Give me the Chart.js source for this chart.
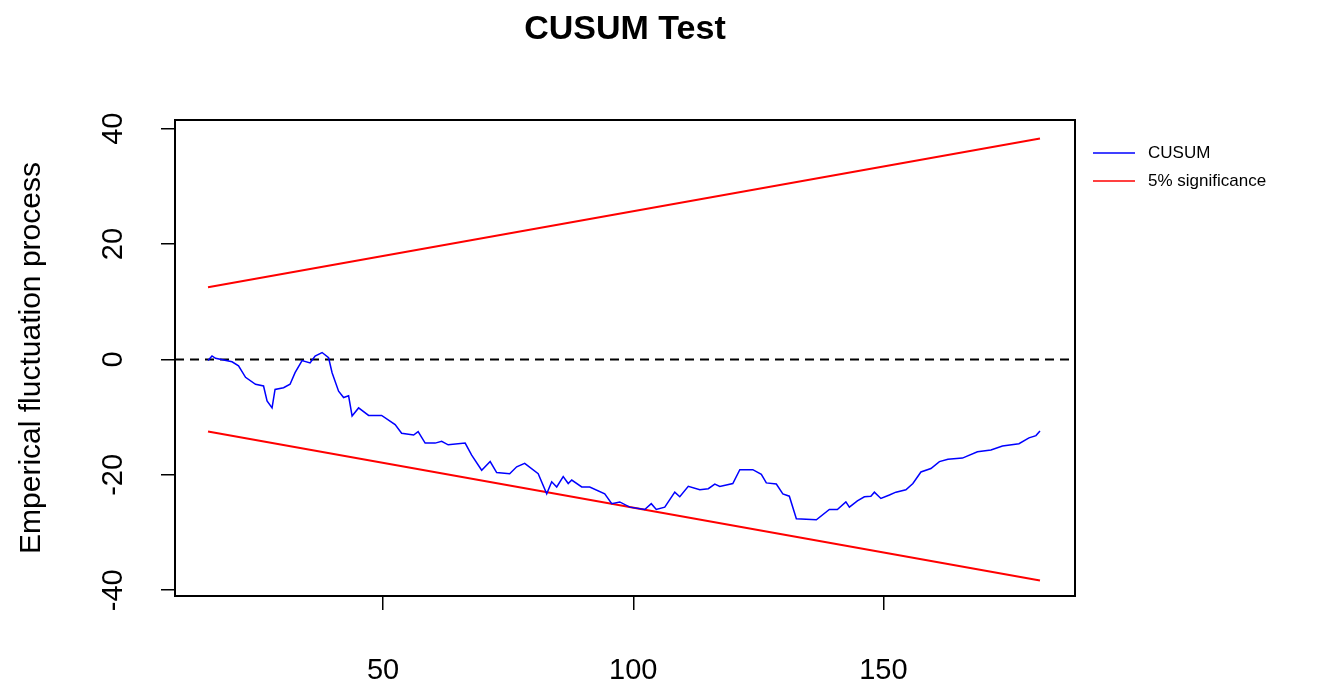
<!DOCTYPE html>
<html lang="en">
<head>
  <meta charset="UTF-8">
  <title>CUSUM Test</title>
  <script src="https://cdn.jsdelivr.net/npm/chart.js"></script>
  <style>
    html, body { margin: 0; padding: 0; background: #fff; }
    #wrap { width: 1322px; height: 694px; }
  </style>
</head>
<body>
<div id="wrap"><canvas id="cusumChart" width="1322" height="694"></canvas></div>
<script>
// values
const cusumX = [15.0, 15.8, 16.5, 19.8, 21.1, 22.5, 24.5, 26.1, 26.8, 27.8, 28.4, 30.1, 31.4, 32.4, 33.8, 35.4, 36.4, 37.8, 39.1, 39.8, 41.1, 42.1, 43.1, 43.8, 45.1, 47.1, 49.7, 52.4, 53.7, 56.1, 57.0, 58.4, 60.4, 61.7, 63.0, 66.4, 67.7, 69.7, 71.4, 72.7, 75.3, 76.7, 78.3, 81.0, 82.7, 83.7, 84.7, 86.0, 87.0, 87.7, 89.7, 91.3, 94.3, 95.7, 97.3, 99.3, 102.3, 103.6, 104.6, 106.3, 108.3, 109.3, 111.0, 113.3, 115.0, 116.3, 117.3, 119.9, 121.3, 123.9, 125.6, 126.6, 128.6, 129.9, 131.2, 132.6, 136.6, 139.2, 140.8, 142.5, 143.2, 144.8, 146.2, 147.5, 148.2, 149.5, 151.2, 152.5, 154.5, 155.9, 157.5, 159.5, 161.2, 162.9, 165.8, 168.8, 171.5, 173.8, 177.1, 179.1, 180.5, 181.3];
const cusumY = [-0.2, 0.6, 0.2, -0.4, -1.1, -3.1, -4.3, -4.6, -7.2, -8.4, -5.2, -4.9, -4.3, -2.3, -0.2, -0.6, 0.6, 1.2, 0.3, -2.3, -5.5, -6.6, -6.3, -9.8, -8.4, -9.7, -9.7, -11.3, -12.8, -13.1, -12.5, -14.5, -14.5, -14.2, -14.8, -14.5, -16.6, -19.2, -17.7, -19.6, -19.8, -18.6, -18.0, -19.8, -23.3, -21.2, -22.1, -20.3, -21.5, -20.9, -22.1, -22.1, -23.3, -25.0, -24.7, -25.6, -26.0, -25.0, -26.0, -25.6, -23.0, -23.8, -22.0, -22.6, -22.4, -21.6, -22.0, -21.5, -19.1, -19.1, -19.9, -21.4, -21.6, -23.3, -23.7, -27.6, -27.8, -26.0, -26.0, -24.7, -25.6, -24.5, -23.8, -23.7, -23.0, -24.1, -23.5, -23.0, -22.6, -21.5, -19.5, -18.9, -17.7, -17.3, -17.1, -16.0, -15.7, -15.0, -14.6, -13.6, -13.2, -12.4];
const boundX = [15.0, 181.3];
const upperBound = [12.5, 38.3];
const lowerBound = [-12.5, -38.3];
const xRange = [8.4, 188.3];
const yRange = [-41, 41.5];
const xTicks = [50, 100, 150];
const yTicks = [-40, -20, 0, 20, 40];
const legendLabels = ['CUSUM', '5% significance'];
const legendColors = ['#0000ff', '#ff0000'];

const pts = (xs, ys) => xs.map((x, i) => ({ x: x, y: ys[i] }));

const rStyle = {
  id: 'rStyle',
  afterDraw(chart) {
    const ctx = chart.ctx;
    const a = chart.chartArea;
    const ys = chart.scales.y;
    ctx.save();
    // box
    ctx.strokeStyle = '#000';
    ctx.lineWidth = 2;
    ctx.strokeRect(a.left, a.top, a.right - a.left, a.bottom - a.top);
    // title
    ctx.fillStyle = '#000';
    ctx.font = 'bold 34px "Liberation Sans", Arial, sans-serif';
    ctx.textAlign = 'center';
    ctx.textBaseline = 'middle';
    ctx.fillText('CUSUM Test', (a.left + a.right) / 2, 30);
    // y tick labels, rotated like R
    ctx.font = '29px "Liberation Sans", Arial, sans-serif';
    yTicks.forEach(v => {
      ctx.save();
      ctx.translate(114, ys.getPixelForValue(v));
      ctx.rotate(-Math.PI / 2);
      ctx.fillText(String(v), 0, 0);
      ctx.restore();
    });
    // y axis title
    ctx.save();
    ctx.translate(32, (a.top + a.bottom) / 2);
    ctx.rotate(-Math.PI / 2);
    ctx.font = '30px "Liberation Sans", Arial, sans-serif';
    ctx.fillText('Emperical fluctuation process', 0, 0);
    ctx.restore();
    // legend
    ctx.font = '17px "Liberation Sans", Arial, sans-serif';
    ctx.textAlign = 'left';
    legendLabels.forEach((t, i) => {
      const y = 153 + i * 28;
      ctx.strokeStyle = legendColors[i];
      ctx.lineWidth = 1.5;
      ctx.beginPath();
      ctx.moveTo(1093, y);
      ctx.lineTo(1135, y);
      ctx.stroke();
      ctx.fillStyle = '#000';
      ctx.fillText(t, 1148, y);
    });
    ctx.restore();
  }
};

new Chart(document.getElementById('cusumChart'), {
  type: 'line',
  data: {
    datasets: [
      { label: 'CUSUM', data: pts(cusumX, cusumY), borderColor: '#0000ff', borderWidth: 1.5, pointRadius: 0, tension: 0 },
      { label: 'upper', data: pts(boundX, upperBound), borderColor: '#ff0000', borderWidth: 2, pointRadius: 0 },
      { label: 'lower', data: pts(boundX, lowerBound), borderColor: '#ff0000', borderWidth: 2, pointRadius: 0 },
      { label: 'zero', data: pts(xRange, [0, 0]), borderColor: '#000', borderWidth: 2, borderDash: [9, 6], pointRadius: 0 }
    ]
  },
  options: {
    responsive: false,
    animation: false,
    layout: { padding: { top: 120, right: 247, left: 0, bottom: 0 } },
    plugins: { legend: { display: false }, tooltip: { enabled: false } },
    scales: {
      x: {
        type: 'linear', min: xRange[0], max: xRange[1],
        afterBuildTicks: s => { s.ticks = xTicks.map(v => ({ value: v })); },
        afterFit: s => { s.height = 98; },
        grid: { drawOnChartArea: false, tickLength: 14, color: '#000', lineWidth: 1.5 },
        border: { display: false },
        ticks: { color: '#000', padding: 44, maxRotation: 0, font: { size: 29, family: '"Liberation Sans", Arial, sans-serif' } }
      },
      y: {
        min: yRange[0], max: yRange[1],
        afterBuildTicks: s => { s.ticks = yTicks.map(v => ({ value: v })); },
        afterFit: s => { s.width = 175; },
        grid: { drawOnChartArea: false, tickLength: 14, color: '#000', lineWidth: 1.5 },
        border: { display: false },
        ticks: { display: false }
      }
    }
  },
  plugins: [rStyle]
});
</script>
</body>
</html>
